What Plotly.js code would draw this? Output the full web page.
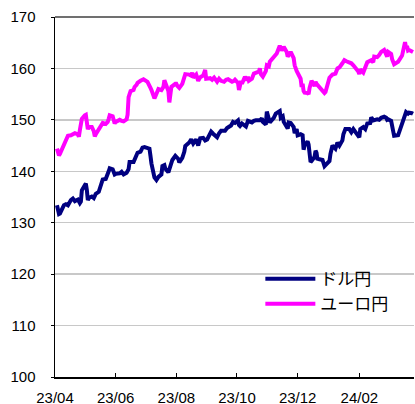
<!DOCTYPE html>
<html>
<head>
<meta charset="utf-8">
<script src="https://cdn.plot.ly/plotly-3.0.1.min.js"></script>
<style>html,body{margin:0;padding:0;background:#fff;}#chart{width:415px;height:404px;}</style>
</head>
<body>
<div id="chart"></div>
<script>
// ドル円 (USD/JPY)
const usdDates = [
"2023-04-03","2023-04-04","2023-04-05","2023-04-06","2023-04-10","2023-04-12","2023-04-14","2023-04-17","2023-04-19","2023-04-21",
"2023-04-24","2023-04-26","2023-04-27","2023-04-28","2023-05-01","2023-05-02","2023-05-03","2023-05-04","2023-05-05","2023-05-08",
"2023-05-10","2023-05-12","2023-05-15","2023-05-16","2023-05-18","2023-05-19","2023-05-22","2023-05-24","2023-05-25","2023-05-26",
"2023-05-29","2023-05-31","2023-06-01","2023-06-05","2023-06-07","2023-06-09","2023-06-12","2023-06-14","2023-06-15","2023-06-19",
"2023-06-21","2023-06-23","2023-06-26","2023-06-28","2023-06-30","2023-07-03","2023-07-05","2023-07-06","2023-07-07","2023-07-10",
"2023-07-12","2023-07-14","2023-07-17","2023-07-18","2023-07-20","2023-07-21","2023-07-24","2023-07-26","2023-07-28","2023-07-31",
"2023-08-01","2023-08-03","2023-08-04","2023-08-07","2023-08-09","2023-08-10","2023-08-14","2023-08-16","2023-08-18","2023-08-21",
"2023-08-23","2023-08-25","2023-08-28","2023-08-30","2023-09-01","2023-09-05","2023-09-07","2023-09-11","2023-09-13","2023-09-15",
"2023-09-19","2023-09-21","2023-09-25","2023-09-27","2023-09-29","2023-10-02","2023-10-03","2023-10-04","2023-10-06","2023-10-10",
"2023-10-12","2023-10-16","2023-10-18","2023-10-20","2023-10-24","2023-10-26","2023-10-27","2023-10-30","2023-10-31","2023-11-01",
"2023-11-03","2023-11-07","2023-11-09","2023-11-13","2023-11-14","2023-11-16","2023-11-17","2023-11-21","2023-11-22","2023-11-24",
"2023-11-27","2023-11-28","2023-11-30","2023-12-01","2023-12-04","2023-12-06","2023-12-07","2023-12-08","2023-12-11","2023-12-12",
"2023-12-13","2023-12-14","2023-12-15","2023-12-18","2023-12-19","2023-12-20","2023-12-21","2023-12-22","2023-12-26","2023-12-27",
"2023-12-28","2023-12-29","2024-01-02","2024-01-03","2024-01-04","2024-01-05","2024-01-08","2024-01-10","2024-01-12","2024-01-15",
"2024-01-16","2024-01-18","2024-01-22","2024-01-24","2024-01-26","2024-01-29","2024-01-31","2024-02-01","2024-02-02","2024-02-05",
"2024-02-07","2024-02-09","2024-02-12","2024-02-13","2024-02-15","2024-02-19","2024-02-21","2024-02-23","2024-02-26","2024-02-28",
"2024-02-29","2024-03-01","2024-03-04","2024-03-05","2024-03-06","2024-03-07","2024-03-11","2024-03-12","2024-03-13","2024-03-14",
"2024-03-15","2024-03-18","2024-03-19","2024-03-21","2024-03-22","2024-03-25","2024-03-26"
];
const usdJpy = [
133.4,132.6,131.7,131.8,133.4,133.6,133.4,134.4,134.7,134.2,
134.5,133.8,134.1,136.3,137.5,137.6,136.4,134.4,134.8,135.1,
134.8,135.6,136.0,136.5,137.9,138.4,138.5,139.3,140.0,140.6,
140.4,139.4,139.5,139.6,139.9,139.4,139.7,140.4,141.8,141.8,
142.8,143.6,143.8,144.6,144.7,144.6,144.4,143.0,141.5,138.8,
138.3,138.9,139.4,141.0,141.2,140.5,139.8,141.0,142.2,143.0,
142.8,142.4,141.7,142.6,143.8,144.9,145.6,146.2,145.4,146.2,
145.0,146.4,146.5,146.0,146.2,147.7,147.3,146.6,147.4,147.9,
147.9,148.4,148.9,149.6,149.4,149.9,149.0,148.8,149.3,148.7,
149.8,149.5,149.8,149.9,149.9,150.3,149.6,149.1,151.6,150.9,
149.5,150.4,151.2,151.7,150.4,150.7,149.6,148.3,149.5,149.4,
148.6,147.4,148.2,147.0,147.2,147.0,144.2,145.0,145.8,145.2,
143.0,141.8,142.0,142.8,144.0,143.6,142.2,142.4,142.2,141.6,
141.0,141.2,142.0,143.4,144.6,145.0,144.4,145.6,145.0,146.0,
147.2,148.2,148.2,147.6,148.2,147.4,147.0,146.6,148.2,148.6,
148.2,149.3,149.4,150.5,149.9,150.1,150.0,150.4,150.6,150.4,
150.0,150.1,149.8,148.8,147.6,146.9,147.0,147.6,148.2,149.0,
149.3,151.0,151.5,151.2,151.4,151.3,151.2
];

// ユーロ円 (EUR/JPY)
const eurDates = [
"2023-04-03","2023-04-04","2023-04-05","2023-04-06","2023-04-10","2023-04-12","2023-04-14","2023-04-17","2023-04-19","2023-04-21",
"2023-04-24","2023-04-25","2023-04-26","2023-04-28","2023-05-01","2023-05-02","2023-05-03","2023-05-04","2023-05-05","2023-05-08",
"2023-05-10","2023-05-11","2023-05-12","2023-05-15","2023-05-17","2023-05-19","2023-05-22","2023-05-24","2023-05-25","2023-05-26",
"2023-05-29","2023-05-31","2023-06-01","2023-06-05","2023-06-07","2023-06-09","2023-06-12","2023-06-13","2023-06-14","2023-06-15",
"2023-06-16","2023-06-19","2023-06-20","2023-06-22","2023-06-23","2023-06-26","2023-06-28","2023-06-29","2023-07-03","2023-07-04",
"2023-07-06","2023-07-07","2023-07-10","2023-07-11","2023-07-12","2023-07-14","2023-07-17","2023-07-19","2023-07-20","2023-07-21",
"2023-07-24","2023-07-25","2023-07-26","2023-07-27","2023-07-31","2023-08-01","2023-08-02","2023-08-04","2023-08-07","2023-08-09",
"2023-08-10","2023-08-14","2023-08-16","2023-08-17","2023-08-18","2023-08-21","2023-08-23","2023-08-25","2023-08-28","2023-08-30",
"2023-08-31","2023-09-04","2023-09-06","2023-09-08","2023-09-11","2023-09-13","2023-09-15","2023-09-18","2023-09-20","2023-09-22",
"2023-09-26","2023-09-28","2023-09-29","2023-10-02","2023-10-03","2023-10-04","2023-10-05","2023-10-06","2023-10-09","2023-10-11",
"2023-10-12","2023-10-13","2023-10-16","2023-10-18","2023-10-20","2023-10-23","2023-10-24","2023-10-25","2023-10-27","2023-10-30",
"2023-10-31","2023-11-02","2023-11-03","2023-11-06","2023-11-08","2023-11-10","2023-11-13","2023-11-14","2023-11-15","2023-11-16",
"2023-11-17","2023-11-20","2023-11-21","2023-11-23","2023-11-24","2023-11-27","2023-11-28","2023-11-30","2023-12-01","2023-12-04",
"2023-12-05","2023-12-06","2023-12-07","2023-12-08","2023-12-11","2023-12-12","2023-12-13","2023-12-14","2023-12-15","2023-12-18",
"2023-12-19","2023-12-20","2023-12-22","2023-12-26","2023-12-28","2023-12-29","2024-01-02","2024-01-05","2024-01-08","2024-01-10",
"2024-01-12","2024-01-15","2024-01-17","2024-01-19","2024-01-22","2024-01-24","2024-01-26","2024-01-29","2024-01-31","2024-02-01",
"2024-02-02","2024-02-05","2024-02-07","2024-02-09","2024-02-13","2024-02-15","2024-02-16","2024-02-19","2024-02-21","2024-02-23",
"2024-02-26","2024-02-27","2024-02-28","2024-02-29","2024-03-01","2024-03-04","2024-03-05","2024-03-06","2024-03-07","2024-03-11",
"2024-03-12","2024-03-14","2024-03-15","2024-03-18","2024-03-19","2024-03-20","2024-03-21","2024-03-22","2024-03-25","2024-03-26"
];
const eurJpy = [
144.4,143.8,143.1,143.4,145.4,146.0,146.9,147.0,147.3,147.4,
147.2,146.7,148.0,150.2,150.9,151.0,149.6,148.2,148.6,148.6,
147.8,146.8,147.2,148.2,149.0,149.4,149.2,149.6,150.2,150.9,
150.7,149.3,149.6,150.0,149.8,149.7,150.1,151.0,154.4,155.2,
155.6,155.8,156.4,156.8,157.2,157.6,157.8,157.9,157.4,156.8,
156.2,155.8,154.2,154.6,155.3,156.0,155.8,156.4,157.7,157.0,
155.6,153.4,155.2,156.4,157.0,157.0,156.6,156.2,157.0,158.4,
158.9,158.8,158.6,159.2,158.2,158.8,157.6,158.3,158.6,159.7,
158.0,158.1,157.8,158.2,157.4,158.0,157.6,157.4,157.8,157.9,
157.4,157.6,157.8,157.2,155.8,156.6,157.6,157.0,158.4,157.7,
158.4,157.6,158.0,159.0,159.2,159.4,160.0,158.9,158.4,159.5,
160.6,160.4,161.3,162.0,162.3,162.9,164.4,163.6,163.5,163.8,
164.2,163.2,162.3,162.8,163.2,162.0,160.6,159.5,159.0,158.0,
156.4,157.0,155.6,155.3,155.2,155.0,156.2,157.4,157.6,156.6,
157.4,157.0,156.6,155.8,155.2,155.4,158.2,158.8,159.0,160.0,
160.2,161.0,161.6,161.4,161.2,161.0,160.6,160.0,159.4,158.9,
159.8,159.2,160.4,161.2,161.6,161.2,162.3,162.2,162.6,163.2,
163.6,163.0,162.6,162.3,163.2,162.8,161.8,161.0,160.8,161.3,
161.6,162.3,162.5,165.1,164.0,164.4,163.5,163.6,163.3,163.2
];

const seriesNames = ["ドル円", "ユーロ円"];
const seriesColors = ["#000080", "#FF00FF"];
const yTickVals = [100, 110, 120, 130, 140, 150, 160, 170];

const fontFamily = "Liberation Sans, Arial, 'Noto Sans CJK JP', sans-serif";

const traces = [
  {x: usdDates, y: usdJpy, name: seriesNames[0], type: "scatter", mode: "lines",
   line: {color: seriesColors[0], width: 4}, legendgroup: "a"},
  {x: eurDates, y: eurJpy, name: seriesNames[1], type: "scatter", mode: "lines",
   line: {color: seriesColors[1], width: 4}, legendgroup: "b"}
];

const layout = {
  width: 415, height: 404,
  margin: {l: 55, r: 1, t: 17, b: 27, pad: 0},
  paper_bgcolor: "#fff", plot_bgcolor: "#fff",
  font: {family: fontFamily, size: 15, color: "#000"},
  showlegend: true,
  legend: {x: 0.572, y: 0.322, xanchor: "left", yanchor: "top",
           bgcolor: "rgba(0,0,0,0)", font: {size: 17, color: "#000", family: fontFamily},
           itemwidth: 50, tracegroupgap: 5, traceorder: "normal"},
  xaxis: {type: "date", range: ["2023-04-01", "2024-03-27"],
          tickformat: "%y/%m", dtick: "M2", tick0: "2023-04-01",
          ticks: "inside", ticklen: 4, tickcolor: "#000", tickwidth: 1,
          showline: true, linecolor: "#000", linewidth: 1.5,
          showgrid: false, zeroline: false, ticklabelstandoff: 6,
          tickfont: {size: 15, color: "#000", family: fontFamily}},
  yaxis: {range: [100, 170], tickvals: yTickVals, ticks: "outside", ticklen: 3,
          tickcolor: "#000", showline: true, linecolor: "#000", linewidth: 1.5,
          showgrid: true, gridcolor: "#c8c8c8", gridwidth: 1.5, zeroline: false,
          ticklabelstandoff: 12,
          tickfont: {size: 15, color: "#000", family: fontFamily}},
  shapes: [
    {type: "line", xref: "paper", yref: "paper", x0: 0, x1: 1, y0: 1, y1: 1,
     line: {color: "#404040", width: 1.5}}
  ]
};

Plotly.newPlot("chart", traces, layout, {displayModeBar: false, staticPlot: true});
</script>
</body>
</html>
